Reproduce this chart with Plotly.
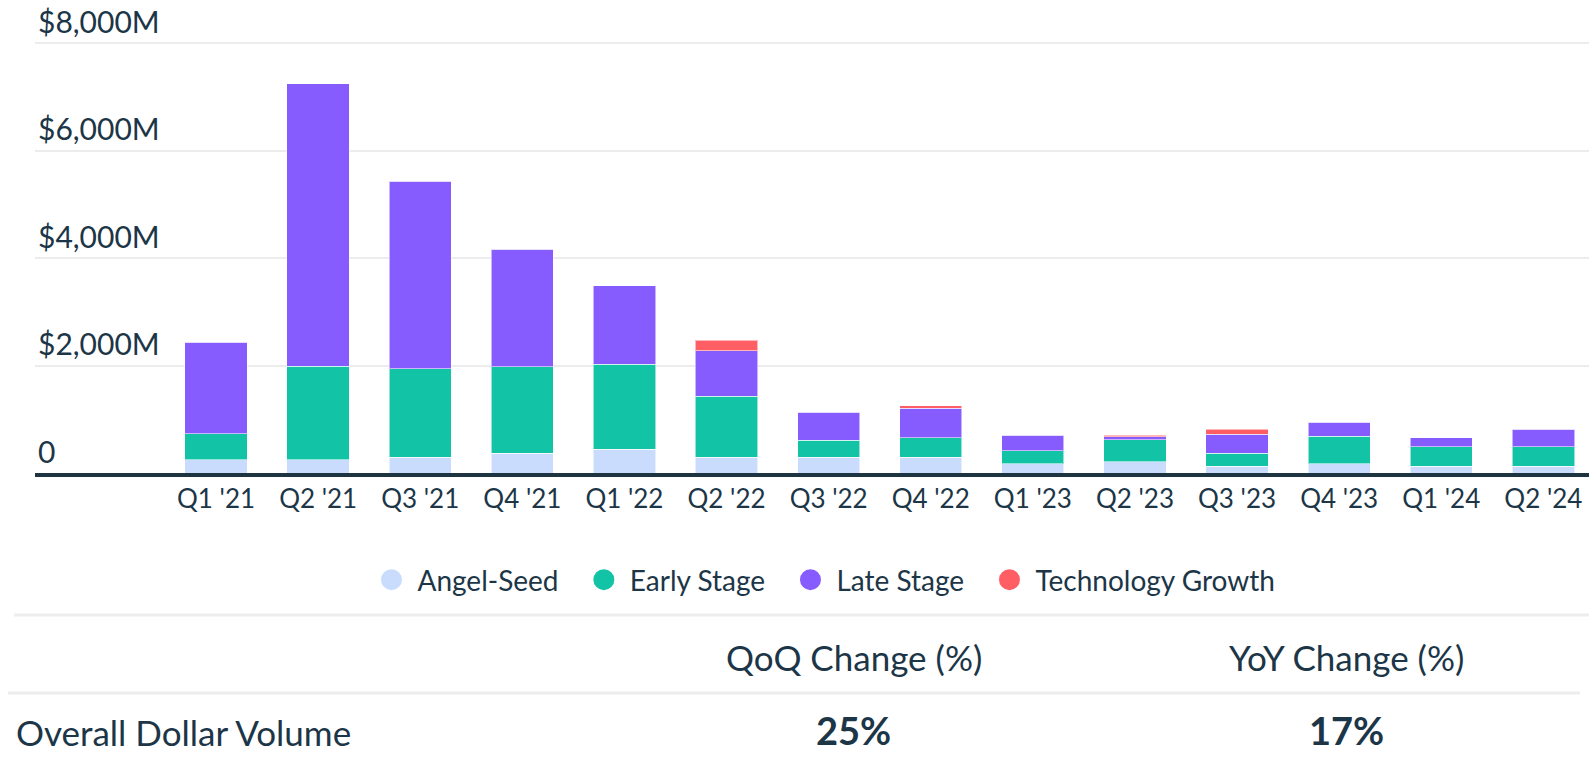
import plotly.graph_objects as go

# ---------------- data ----------------
quarters = ["Q1 '21", "Q2 '21", "Q3 '21", "Q4 '21", "Q1 '22", "Q2 '22", "Q3 '22",
            "Q4 '22", "Q1 '23", "Q2 '23", "Q3 '23", "Q4 '23", "Q1 '24", "Q2 '24"]
angel_seed = [248, 248, 290, 372, 447, 290, 298, 290, 168, 205, 130, 168, 130, 130]
early_stage = [484, 1737, 1652, 1611, 1574, 1140, 309, 367, 246, 410, 235, 521, 359, 359]
late_stage = [1700, 5264, 3488, 2186, 1466, 847, 529, 553, 292, 56, 361, 253, 168, 330]
tech_growth = [0, 0, 0, 0, 0, 197, 0, 43, 0, 30, 86, 0, 0, 0]

series_names = ["Angel-Seed", "Early Stage", "Late Stage", "Technology Growth"]
series_colors = ["#c9dcfd", "#12c3a6", "#875cff", "#ff5f64"]

y_tick_vals = [0, 2000, 4000, 6000, 8000]
y_tick_text = ["0", "$2,000M", "$4,000M", "$6,000M", "$8,000M"]

table_headers = ["QoQ Change (%)", "YoY Change (%)"]
table_row_label = "Overall Dollar Volume"
table_row_values = ["25%", "17%"]

# ---------------- figure ----------------
TEXT = "#1c3647"
FONT = "Lato"

fig = go.Figure()
for name, vals, col in zip(series_names,
                           [angel_seed, early_stage, late_stage, tech_growth],
                           series_colors):
    fig.add_trace(go.Bar(
        x=quarters, y=vals, name=name, width=0.61,
        marker=dict(color=col, line=dict(color="rgba(255,255,255,0.55)", width=1)),
        showlegend=False, legendgroup=name,
    ))
# legend entries drawn as circles (non-breaking spaces widen the gap between entries)
for i, (name, col) in enumerate(zip(series_names, series_colors)):
    pad = "\u00a0" * 2 if i < len(series_names) - 1 else ""
    fig.add_trace(go.Scatter(
        x=[None], y=[None], mode="markers", name=name + pad, legendgroup=name,
        marker=dict(color=col, size=16, line=dict(color=col, width=5)),
    ))

# page body margin is removed (post_script), so the figure fills the window exactly
W, H = 1589, 776
L, B = 35, 303
plot_h = H - B
plot_w = W - L
px_per_unit = 0.0537
y_top = plot_h / px_per_unit


def px_x(page_x):
    return (page_x - L) / plot_w


def px_y(page_y):
    return (plot_h - page_y) / plot_h


fig.update_layout(
    width=W, height=H,
    margin=dict(l=L, r=0, t=0, b=B, autoexpand=False),
    barmode="stack",
    plot_bgcolor="white", paper_bgcolor="white",
    font=dict(family=FONT, color=TEXT),
    showlegend=True,
    legend=dict(
        orientation="h", x=px_x(823), xanchor="center", y=px_y(580), yanchor="middle",
        font=dict(size=28, color=TEXT, family=FONT), itemsizing="trace",
        itemwidth=42, traceorder="normal",
    ),
    xaxis=dict(
        type="category", range=[-1.773, 13.447], automargin=False,
        showline=True, linecolor="#1f3441", linewidth=4,
        showgrid=False, ticks="", tickfont=dict(size=26, color=TEXT, family=FONT),
        ticklabelstandoff=0,
    ),
    yaxis=dict(
        range=[0, y_top], tickvals=y_tick_vals, ticktext=y_tick_text, automargin=False,
        showgrid=True, gridcolor="#ececec", gridwidth=2, zeroline=False,
        ticklabelposition="inside top", ticklabeloverflow="allow",
        tickfont=dict(size=30, color=TEXT, family=FONT), ticks="",
    ),
)

# table separator lines
fig.add_shape(type="line", xref="paper", yref="paper",
              x0=px_x(14), x1=px_x(1589), y0=px_y(615), y1=px_y(615),
              line=dict(color="#ededed", width=3))
fig.add_shape(type="line", xref="paper", yref="paper",
              x0=px_x(8), x1=px_x(1580), y0=px_y(693), y1=px_y(693),
              line=dict(color="#ededed", width=3))

header_x = [853.5, 1346.5]
for txt, cx in zip(table_headers, header_x):
    fig.add_annotation(text=txt, xref="paper", yref="paper", x=px_x(cx), y=px_y(657),
                       xanchor="center", yanchor="middle", showarrow=False,
                       font=dict(size=35, color=TEXT, family=FONT))
fig.add_annotation(text=table_row_label, xref="paper", yref="paper", x=px_x(14), y=px_y(732),
                   xanchor="left", yanchor="middle", showarrow=False,
                   font=dict(size=35, color=TEXT, family=FONT))
for txt, cx in zip(table_row_values, header_x):
    fig.add_annotation(text="<b>" + txt + "</b>", xref="paper", yref="paper", x=px_x(cx), y=px_y(730),
                       xanchor="center", yanchor="middle", showarrow=False,
                       font=dict(size=38, color=TEXT, family=FONT))

fig.write_html("out.html",
               config={"displayModeBar": False},
               post_script="document.body.style.margin='0px';document.body.style.overflow='hidden';")
